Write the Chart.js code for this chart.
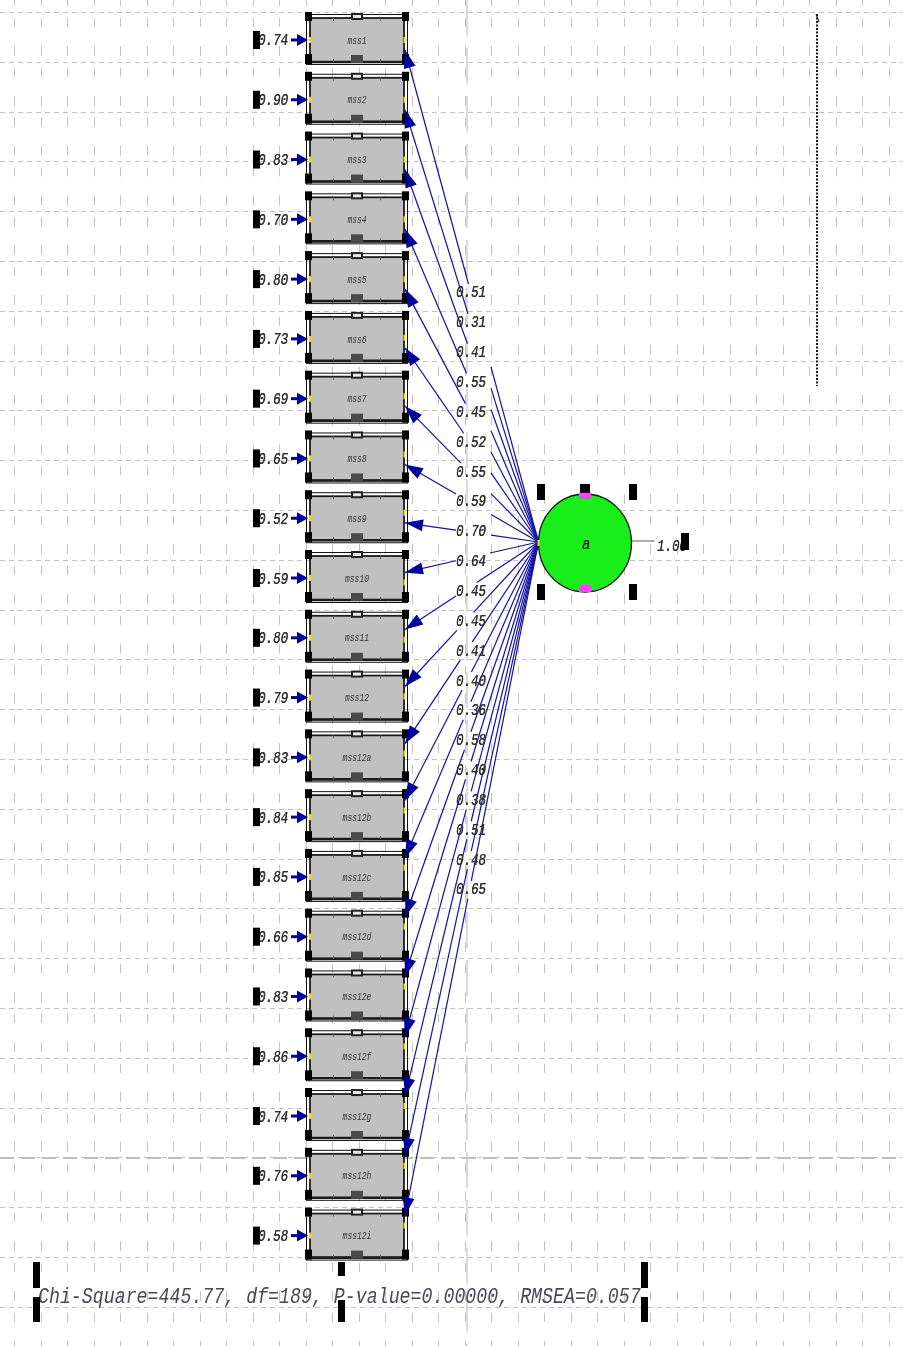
<!DOCTYPE html>
<html><head><meta charset="utf-8">
<script src="https://cdn.jsdelivr.net/npm/chart.js@4.4.1/dist/chart.umd.min.js"></script>
<style>html,body{margin:0;padding:0;background:#fff;}#wrap{width:903px;height:1346px;position:relative;}</style>
</head><body><div id="wrap"><canvas id="c"></canvas></div>
<script>
// ---- data ----
const indicators = ['mss1','mss2','mss3','mss4','mss5','mss6','mss7','mss8','mss9','mss10','mss11','mss12',
  'mss12a','mss12b','mss12c','mss12d','mss12e','mss12f','mss12g','mss12h','mss12i'];
const errorVariances = [0.74,0.90,0.83,0.70,0.80,0.73,0.69,0.65,0.52,0.59,0.80,0.79,0.83,0.84,0.85,0.66,0.83,0.86,0.74,0.76,0.58];
const loadings = [0.51,0.31,0.41,0.55,0.45,0.52,0.55,0.59,0.70,0.64,0.45,0.45,0.41,0.40,0.36,0.58,0.40,0.38,0.51,0.48,0.65];
const factorName = 'a';
const factorVariance = 1.00;
const chiSquare = '445.77', degreesOfFreedom = '189', pValue = '0.00000', rmsea = '0.057';

// ---- layout (drawing units) ----
const H = 1346;
const Y_MIN = 0.331, Y_MAX = 22.847;
const PX_PER_ROW = H / (Y_MAX - Y_MIN);
const rowPx = r => (r - Y_MIN) * PX_PER_ROW;
const pxRow = p => p / PX_PER_ROW + Y_MIN;
const BOX_L = 310, BOX_R = 404, BOX_HALF = 22;
const FACTOR_X = 585, FACTOR_ROW = 9.414, FACTOR_RX = 46.5, FACTOR_RY = 49;
const LABEL_X0 = 456, LABEL_X1 = 490, LABEL_ROW0 = 5.232, LABEL_STEP = 0.4993, LABEL_HALF = 9;
const BLUE = '#1212a8', NAVY = '#00009c', TXT = '#333030';

function pathGeometry(i) {
  const cy = rowPx(i + 1), fy = rowPx(FACTOR_ROW);
  const d = cy - fy;
  const off = d < 0 ? 4 + 6 * Math.min(1, -d / 250) : -(4 + 16 * Math.min(1, d / 350));
  const p0 = {x: BOX_R + 1, y: cy + off};
  const p1 = {x: FACTOR_X - FACTOR_RX, y: fy - 1};
  const ly = rowPx(LABEL_ROW0 + i * LABEL_STEP);
  const dx = p1.x - p0.x, dy = p1.y - p0.y;
  const at = t => ({x: p0.x + dx * t, y: p0.y + dy * t});
  const tX = x => (x - p0.x) / dx, tY = y => (y - p0.y) / dy;
  const down = dy > 0;
  let tIn = tX(LABEL_X0);
  if (Math.abs(dy) > 1e-6) tIn = Math.max(tIn, tY(down ? ly - LABEL_HALF : ly + LABEL_HALF));
  let tOut;
  if (d < 0) tOut = tX(LABEL_X1 + 1);
  else { tOut = tX(LABEL_X1); if (Math.abs(dy) > 1e-6) tOut = Math.min(tOut, tY(down ? ly + LABEL_HALF : ly - LABEL_HALF)); }
  tIn = Math.min(Math.max(tIn, 0), 1); tOut = Math.max(tOut, tIn);
  return {p0, p1, a: at(tIn), b: at(tOut), ly, cy};
}
const toData = p => ({x: p.x, y: pxRow(p.y)});

const datasets = [];
loadings.forEach((v, i) => {
  const g = pathGeometry(i);
  const base = {type: 'line', showLine: true, borderColor: BLUE, borderWidth: 1.2, pointRadius: 0, fill: false, tension: 0};
  datasets.push(Object.assign({label: indicators[i] + ' L', data: [toData(g.p0), toData(g.a)]}, base));
  datasets.push(Object.assign({label: indicators[i] + ' R', data: [toData(g.b), toData(g.p1)]}, base));
});

function drawText(ctx, s, x, y, size, sx, align, color, heavy) {
  ctx.save();
  ctx.translate(x, y); ctx.scale(sx, 1);
  ctx.font = 'italic ' + size + 'px "Liberation Mono", "DejaVu Sans Mono", monospace';
  ctx.textAlign = align; ctx.textBaseline = 'middle';
  ctx.fillStyle = color || TXT;
  ctx.fillText(s, 0, 0);
  if (heavy) ctx.fillText(s, 0.5, 0);
  ctx.restore();
}
function rect(ctx, x, y, w, h, c) { ctx.fillStyle = c; ctx.fillRect(x, y, w, h); }

const pathPlugin = {
  id: 'pathDiagram',
  beforeDraw(chart) {
    const ctx = chart.ctx, W = chart.width;
    ctx.save();
    ctx.fillStyle = '#fff'; ctx.fillRect(0, 0, W, chart.height);
    ctx.lineWidth = 1;
    ctx.strokeStyle = '#c2c2c2';
    ctx.setLineDash([9, 19, 10, 11.8]);
    for (let x = 14.4; x < W; x += 26.5) {
      ctx.beginPath(); ctx.moveTo(Math.round(x) + 0.5, 18 - 49.8); ctx.lineTo(Math.round(x) + 0.5, chart.height); ctx.stroke();
    }
    ctx.setLineDash([5, 4]);
    for (let y = 12; y < chart.height; y += 49.8) {
      ctx.beginPath(); ctx.moveTo(0, Math.round(y) + 0.5); ctx.lineTo(W, Math.round(y) + 0.5); ctx.stroke();
    }
    ctx.strokeStyle = '#bdbdbd'; ctx.lineWidth = 2; ctx.setLineDash([14, 7]);
    ctx.beginPath(); ctx.moveTo(0, 1158); ctx.lineTo(W, 1158); ctx.stroke();
    ctx.lineWidth = 1.3; ctx.setLineDash([36, 12]); ctx.strokeStyle = '#c8c8c8';
    ctx.beginPath(); ctx.moveTo(467, 0); ctx.lineTo(467, chart.height); ctx.stroke();
    ctx.strokeStyle = '#1a1a1a'; ctx.lineWidth = 2; ctx.setLineDash([2, 1.5]);
    ctx.beginPath(); ctx.moveTo(817, 14); ctx.lineTo(817, 386); ctx.stroke();
    ctx.setLineDash([]); ctx.lineWidth = 1.2;
    ctx.beginPath(); ctx.moveTo(816, 14); ctx.lineTo(819, 22); ctx.stroke();
    ctx.restore();
  },
  beforeDatasetsDraw(chart) {
    const ctx = chart.ctx, xs = chart.scales.x, ys = chart.scales.y;
    ctx.save();
    indicators.forEach((name, i) => {
      const c = ys.getPixelForValue(i + 1);
      const l = xs.getPixelForValue(BOX_L), r = xs.getPixelForValue(BOX_R);
      rect(ctx, l, c - BOX_HALF, r - l, 2 * BOX_HALF, '#c0c0c0');
      ctx.strokeStyle = '#1c1c1c'; ctx.lineWidth = 1.8;
      ctx.strokeRect(l, c - BOX_HALF, r - l, 2 * BOX_HALF);
      ctx.lineWidth = 2.6; ctx.beginPath(); ctx.moveTo(l, c + BOX_HALF); ctx.lineTo(r, c + BOX_HALF); ctx.stroke();
      ctx.strokeStyle = '#111'; ctx.lineWidth = 1;
      ctx.strokeRect(l - 3.5, c - BOX_HALF - 3.5, r - l + 7, 2 * BOX_HALF + 6);
      ctx.strokeStyle = '#666';
      [l + (r - l) * 0.25, l + (r - l) * 0.75].forEach(tx => {
        ctx.beginPath(); ctx.moveTo(tx, c - BOX_HALF); ctx.lineTo(tx, c - BOX_HALF + 3); ctx.stroke();
        ctx.beginPath(); ctx.moveTo(tx, c + BOX_HALF); ctx.lineTo(tx, c + BOX_HALF - 3); ctx.stroke();
      });
      rect(ctx, l - 5, c - 28, 7, 9, '#000'); rect(ctx, r - 2, c - 28, 7, 9, '#000');
      rect(ctx, l - 5, c + 14, 7, 10, '#000'); rect(ctx, r - 2, c + 14, 7, 10, '#000');
      rect(ctx, 351, c - 27, 12, 7, '#222'); rect(ctx, 353, c - 25, 8, 3, '#e8e8e8');
      rect(ctx, 351, c + 15, 12, 8, '#4a4a4a');
      drawText(ctx, name, (l + r) / 2, c + 1, 10, 0.8, 'center', '#3a3030');
      ctx.strokeStyle = NAVY; ctx.lineWidth = 3;
      ctx.beginPath(); ctx.moveTo(291, c); ctx.lineTo(300, c); ctx.stroke();
      ctx.fillStyle = NAVY; ctx.beginPath(); ctx.moveTo(297, c - 6); ctx.lineTo(308, c); ctx.lineTo(297, c + 6); ctx.closePath(); ctx.fill();
      rect(ctx, l - 1, c - 3, 2, 6, '#f0e000');
      drawText(ctx, errorVariances[i].toFixed(2), 288, c + 1, 17, 0.74, 'right', TXT, true);
      rect(ctx, 253, c - 9, 7, 18, '#000');
    });
    ctx.restore();
  },
  afterDatasetsDraw(chart) {
    const ctx = chart.ctx, xs = chart.scales.x, ys = chart.scales.y;
    ctx.save();
    loadings.forEach((v, i) => {
      const g = pathGeometry(i);
      const p0 = {x: xs.getPixelForValue(g.p0.x), y: ys.getPixelForValue(pxRow(g.p0.y))};
      const p1 = {x: xs.getPixelForValue(g.p1.x), y: ys.getPixelForValue(pxRow(g.p1.y))};
      let ux = p0.x - p1.x, uy = p0.y - p1.y; const n = Math.hypot(ux, uy); ux /= n; uy /= n;
      const bx = p0.x - ux * 18, by = p0.y - uy * 18;
      ctx.fillStyle = NAVY;
      ctx.beginPath(); ctx.moveTo(p0.x, p0.y); ctx.lineTo(bx - uy * 6, by + ux * 6); ctx.lineTo(bx + uy * 6, by - ux * 6); ctx.closePath(); ctx.fill();
      const ysign = uy < 0 ? 1 : -1;
      rect(ctx, p0.x - 1.5, p0.y - ysign * 10 - 3, 2, 6, '#f0e000');
      const ly = ys.getPixelForValue(LABEL_ROW0 + i * LABEL_STEP);
      drawText(ctx, v.toFixed(2), 456, ly, 17, 0.73, 'left', TXT, true);
    });
    const fx = xs.getPixelForValue(FACTOR_X), fy = ys.getPixelForValue(FACTOR_ROW);
    ctx.strokeStyle = '#555'; ctx.lineWidth = 1;
    ctx.beginPath(); ctx.moveTo(fx + FACTOR_RX, fy - 2); ctx.lineTo(fx + FACTOR_RX + 23, fy - 2); ctx.stroke();
    ctx.fillStyle = '#1aee1a'; ctx.strokeStyle = '#111'; ctx.lineWidth = 1.3;
    ctx.beginPath(); ctx.ellipse(fx, fy, FACTOR_RX, FACTOR_RY, 0, 0, Math.PI * 2); ctx.fill(); ctx.stroke();
    rect(ctx, fx - FACTOR_RX - 1, fy - 3, 2, 6, '#f0e000');
    drawText(ctx, factorName, fx + 1, fy + 2, 17, 0.8, 'center', '#222', true);
    rect(ctx, fx - 48, fy - 59, 8, 16, '#000'); rect(ctx, fx + 44, fy - 59, 8, 16, '#000');
    rect(ctx, fx - 48, fy + 41, 8, 16, '#000'); rect(ctx, fx + 44, fy + 41, 8, 16, '#000');
    rect(ctx, fx - 5, fy - 59, 10, 9, '#000');
    rect(ctx, fx - 6, fy - 50, 12, 6, '#ff40ff'); rect(ctx, fx - 6, fy + 42, 12, 7, '#ff40ff');
    drawText(ctx, factorVariance.toFixed(2), 657, fy + 4, 17, 0.73, 'left', TXT, true);
    rect(ctx, 681, fy - 10, 8, 17, '#000');
    const fit = 'Chi-Square=' + chiSquare + ', df=' + degreesOfFreedom + ', P-value=' + pValue + ', RMSEA=' + rmsea;
    drawText(ctx, fit, 38, 1297, 22, 0.83, 'left', '#484858');
    [[33, 1262, 26], [33, 1297, 25], [641, 1262, 26], [641, 1297, 25], [338, 1262, 14], [338, 1300, 22]].forEach(h => rect(ctx, h[0], h[1], 7, h[2], '#000'));
    ctx.restore();
  }
};

new Chart(document.getElementById('c'), {
  type: 'scatter',
  data: {datasets},
  options: {
    responsive: true, maintainAspectRatio: false, animation: false,
    layout: {padding: 0},
    plugins: {legend: {display: false}, tooltip: {enabled: false}},
    scales: {
      x: {type: 'linear', min: 0, max: 903, display: false},
      y: {type: 'linear', min: Y_MIN, max: Y_MAX, reverse: true, display: false}
    }
  },
  plugins: [pathPlugin]
});
</script></body></html>
